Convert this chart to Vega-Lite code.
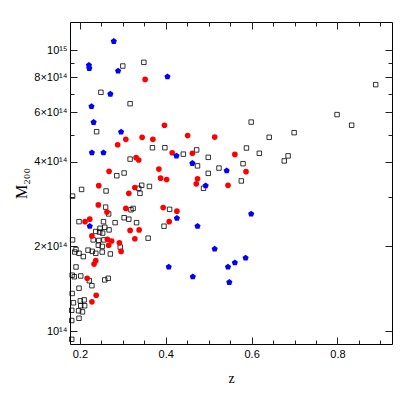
{
  "$schema": "https://vega.github.io/schema/vega-lite/v6.json",
  "width": 322,
  "height": 322,
  "autosize": "none",
  "padding": {"left": 70, "top": 22, "right": 23, "bottom": 71},
  "config": {
    "view": {"stroke": "#000", "strokeWidth": 1},
    "axis": {"domain": false, "grid": false, "tickColor": "#222", "tickWidth": 1, "labelFont": "Liberation Sans", "labelFontSize": 11, "labelColor": "#000", "titleFont": "Liberation Serif", "titleFontWeight": "normal", "titleColor": "#000"}
  },
  "data": {"values": [
    {"series":"blue","z":0.279,"M":10.74e14},{"series":"blue","z":0.221,"M":8.82e14},{"series":"blue","z":0.222,"M":8.61e14},{"series":"blue","z":0.289,"M":8.42e14},{"series":"blue","z":0.404,"M":8.04e14},{"series":"blue","z":0.271,"M":6.97e14},{"series":"blue","z":0.227,"M":6.30e14},{"series":"blue","z":0.232,"M":5.53e14},{"series":"blue","z":0.296,"M":5.11e14},{"series":"blue","z":0.228,"M":4.31e14},{"series":"blue","z":0.255,"M":4.31e14},{"series":"blue","z":0.425,"M":4.20e14},{"series":"blue","z":0.426,"M":2.52e14},{"series":"blue","z":0.223,"M":2.36e14},{"series":"blue","z":0.407,"M":1.69e14},{"series":"blue","z":0.462,"M":3.95e14},{"series":"blue","z":0.542,"M":3.72e14},{"series":"blue","z":0.493,"M":3.29e14},{"series":"blue","z":0.599,"M":2.61e14},{"series":"blue","z":0.474,"M":2.36e14},{"series":"blue","z":0.514,"M":1.96e14},{"series":"blue","z":0.586,"M":1.82e14},{"series":"blue","z":0.561,"M":1.75e14},{"series":"blue","z":0.545,"M":1.69e14},{"series":"blue","z":0.463,"M":1.56e14},{"series":"blue","z":0.548,"M":1.49e14},
    {"series":"red","z":0.352,"M":7.86e14},{"series":"red","z":0.397,"M":5.40e14},{"series":"red","z":0.307,"M":4.81e14},{"series":"red","z":0.345,"M":4.89e14},{"series":"red","z":0.370,"M":4.81e14},{"series":"red","z":0.451,"M":4.96e14},{"series":"red","z":0.514,"M":4.90e14},{"series":"red","z":0.288,"M":4.60e14},{"series":"red","z":0.415,"M":4.31e14},{"series":"red","z":0.331,"M":4.14e14},{"series":"red","z":0.337,"M":4.06e14},{"series":"red","z":0.268,"M":3.70e14},{"series":"red","z":0.384,"M":3.77e14},{"series":"red","z":0.388,"M":3.50e14},{"series":"red","z":0.402,"M":3.46e14},{"series":"red","z":0.244,"M":3.29e14},{"series":"red","z":0.328,"M":3.24e14},{"series":"red","z":0.314,"M":3.09e14},{"series":"red","z":0.243,"M":2.81e14},{"series":"red","z":0.263,"M":2.65e14},{"series":"red","z":0.307,"M":2.73e14},{"series":"red","z":0.394,"M":2.75e14},{"series":"red","z":0.426,"M":2.67e14},{"series":"red","z":0.223,"M":2.50e14},{"series":"red","z":0.212,"M":2.45e14},{"series":"red","z":0.408,"M":2.45e14},{"series":"red","z":0.338,"M":2.29e14},{"series":"red","z":0.317,"M":2.28e14},{"series":"red","z":0.228,"M":2.18e14},{"series":"red","z":0.328,"M":2.13e14},{"series":"red","z":0.264,"M":2.12e14},{"series":"red","z":0.274,"M":2.09e14},{"series":"red","z":0.292,"M":2.06e14},{"series":"red","z":0.267,"M":2.02e14},{"series":"red","z":0.296,"M":1.92e14},{"series":"red","z":0.237,"M":1.78e14},{"series":"red","z":0.233,"M":1.73e14},{"series":"red","z":0.217,"M":1.54e14},{"series":"red","z":0.238,"M":1.34e14},{"series":"red","z":0.228,"M":1.27e14},{"series":"red","z":0.462,"M":4.29e14},{"series":"red","z":0.561,"M":4.25e14},{"series":"red","z":0.587,"M":3.69e14},{"series":"red","z":0.474,"M":3.48e14},{"series":"red","z":0.471,"M":3.34e14},{"series":"red","z":0.545,"M":3.30e14},
    {"series":"sq","z":0.300,"M":8.77e14},{"series":"sq","z":0.349,"M":9.04e14},{"series":"sq","z":0.249,"M":7.07e14},{"series":"sq","z":0.317,"M":6.44e14},{"series":"sq","z":0.239,"M":5.12e14},{"series":"sq","z":0.369,"M":4.49e14},{"series":"sq","z":0.398,"M":4.49e14},{"series":"sq","z":0.599,"M":5.54e14},{"series":"sq","z":0.641,"M":4.89e14},{"series":"sq","z":0.699,"M":5.08e14},{"series":"sq","z":0.588,"M":4.48e14},{"series":"sq","z":0.472,"M":4.41e14},{"series":"sq","z":0.889,"M":7.53e14},{"series":"sq","z":0.799,"M":5.89e14},{"series":"sq","z":0.833,"M":5.40e14},{"series":"sq","z":0.441,"M":4.26e14},{"series":"sq","z":0.499,"M":4.15e14},{"series":"sq","z":0.618,"M":4.29e14},{"series":"sq","z":0.685,"M":4.20e14},{"series":"sq","z":0.676,"M":4.03e14},{"series":"sq","z":0.474,"M":3.87e14},{"series":"sq","z":0.524,"M":3.80e14},{"series":"sq","z":0.580,"M":3.94e14},{"series":"sq","z":0.499,"M":3.64e14},{"series":"sq","z":0.576,"M":3.42e14},{"series":"sq","z":0.488,"M":3.22e14},{"series":"sq","z":0.317,"M":4.09e14},{"series":"sq","z":0.303,"M":3.65e14},{"series":"sq","z":0.286,"M":3.57e14},{"series":"sq","z":0.344,"M":3.30e14},{"series":"sq","z":0.362,"M":3.27e14},{"series":"sq","z":0.337,"M":3.22e14},{"series":"sq","z":0.340,"M":3.09e14},{"series":"sq","z":0.204,"M":3.19e14},{"series":"sq","z":0.261,"M":3.15e14},{"series":"sq","z":0.183,"M":3.02e14},{"series":"sq","z":0.260,"M":2.76e14},{"series":"sq","z":0.319,"M":2.70e14},{"series":"sq","z":0.324,"M":2.73e14},{"series":"sq","z":0.267,"M":2.61e14},{"series":"sq","z":0.409,"M":2.71e14},{"series":"sq","z":0.303,"M":2.53e14},{"series":"sq","z":0.314,"M":2.50e14},{"series":"sq","z":0.255,"M":2.45e14},{"series":"sq","z":0.282,"M":2.43e14},{"series":"sq","z":0.332,"M":2.43e14},{"series":"sq","z":0.396,"M":2.36e14},{"series":"sq","z":0.247,"M":2.32e14},{"series":"sq","z":0.258,"M":2.34e14},{"series":"sq","z":0.268,"M":2.29e14},{"series":"sq","z":0.237,"M":2.26e14},{"series":"sq","z":0.246,"M":2.25e14},{"series":"sq","z":0.253,"M":2.23e14},{"series":"sq","z":0.359,"M":2.14e14},{"series":"sq","z":0.231,"M":2.11e14},{"series":"sq","z":0.244,"M":2.10e14},{"series":"sq","z":0.256,"M":2.11e14},{"series":"sq","z":0.183,"M":2.11e14},{"series":"sq","z":0.294,"M":1.99e14},{"series":"sq","z":0.243,"M":2.02e14},{"series":"sq","z":0.252,"M":2.00e14},{"series":"sq","z":0.191,"M":1.95e14},{"series":"sq","z":0.219,"M":1.94e14},{"series":"sq","z":0.229,"M":1.92e14},{"series":"sq","z":0.188,"M":1.91e14},{"series":"sq","z":0.198,"M":1.89e14},{"series":"sq","z":0.252,"M":1.91e14},{"series":"sq","z":0.237,"M":1.89e14},{"series":"sq","z":0.271,"M":1.88e14},{"series":"sq","z":0.208,"M":1.84e14},{"series":"sq","z":0.191,"M":1.69e14},{"series":"sq","z":0.182,"M":1.58e14},{"series":"sq","z":0.187,"M":1.56e14},{"series":"sq","z":0.202,"M":1.57e14},{"series":"sq","z":0.222,"M":1.51e14},{"series":"sq","z":0.228,"M":1.45e14},{"series":"sq","z":0.198,"M":1.42e14},{"series":"sq","z":0.258,"M":1.52e14},{"series":"sq","z":0.266,"M":1.54e14},{"series":"sq","z":0.182,"M":1.36e14},{"series":"sq","z":0.185,"M":1.26e14},{"series":"sq","z":0.201,"M":1.28e14},{"series":"sq","z":0.210,"M":1.29e14},{"series":"sq","z":0.211,"M":1.23e14},{"series":"sq","z":0.202,"M":1.23e14},{"series":"sq","z":0.181,"M":1.185e14},{"series":"sq","z":0.197,"M":1.18e14},{"series":"sq","z":0.206,"M":1.17e14},{"series":"sq","z":0.181,"M":1.09e14},{"series":"sq","z":0.198,"M":1.11e14},{"series":"sq","z":0.181,"M":0.934e14},{"series":"sq","z":0.198,"M":2.45e14}
  ]},
  "resolve": {"axis": {"x": "independent", "y": "independent"}},
  "layer": [
    {
      "transform": [{"filter": "datum.series == 'sq'"}],
      "mark": {"type": "point", "shape": "square", "filled": false, "stroke": "#000", "strokeWidth": 0.8, "size": 20, "opacity": 1},
      "encoding": {
        "x": {"field": "z", "type": "quantitative", "scale": {"domain": [0.177, 0.927], "nice": false, "zero": false},
              "axis": {"orient": "bottom", "values": [0.2, 0.4, 0.6, 0.8], "format": ".1f", "tickSize": -7, "labelPadding": 11, "title": "z", "titleFontSize": 14, "titlePadding": 12}},
        "y": {"field": "M", "type": "quantitative", "scale": {"type": "log", "domain": [0.899e14, 1.258e15], "nice": false, "zero": false},
              "axis": {"orient": "left", "values": [1e14, 2e14, 4e14, 6e14, 8e14, 1e15], "tickSize": -7, "labelPadding": 10,
                       "labelExpr": "datum.value == 1e14 ? '10¹⁴' : datum.value == 1e15 ? '10¹⁵' : round(datum.value / 1e14) + '×10¹⁴'",
                       "title": "M₂₀₀", "titleFontSize": 16, "titlePadding": 4}}
      }
    },
    {
      "transform": [{"filter": "datum.series == 'red'"}],
      "mark": {"type": "point", "shape": "circle", "filled": true, "fill": "#ff0000", "size": 32, "opacity": 1, "strokeWidth": 0},
      "encoding": {
        "x": {"field": "z", "type": "quantitative", "scale": {"domain": [0.177, 0.927], "nice": false, "zero": false},
              "axis": {"orient": "top", "values": [0.2, 0.4, 0.6, 0.8], "tickSize": -7, "labels": false, "title": null}},
        "y": {"field": "M", "type": "quantitative", "scale": {"type": "log", "domain": [0.899e14, 1.258e15], "nice": false, "zero": false},
              "axis": {"orient": "right", "values": [1e14, 2e14, 4e14, 6e14, 8e14, 1e15], "tickSize": -7, "labels": false, "title": null}}
      }
    },
    {
      "transform": [{"filter": "datum.series == 'blue'"}],
      "mark": {"type": "point", "shape": "M0,-1L0.951,-0.309L0.588,0.809L-0.588,0.809L-0.951,-0.309Z", "filled": true, "fill": "#0000ff", "size": 42, "opacity": 1, "strokeWidth": 0},
      "encoding": {
        "x": {"field": "z", "type": "quantitative", "scale": {"domain": [0.177, 0.927], "nice": false, "zero": false},
              "axis": {"orient": "bottom", "values": [0.2, 0.25, 0.3, 0.35, 0.4, 0.45, 0.5, 0.55, 0.6, 0.65, 0.7, 0.75, 0.8, 0.85, 0.9], "tickSize": -4, "labels": false, "title": null}},
        "y": {"field": "M", "type": "quantitative", "scale": {"type": "log", "domain": [0.899e14, 1.258e15], "nice": false, "zero": false},
              "axis": {"orient": "left", "values": [1e14, 2e14, 3e14, 4e14, 5e14, 6e14, 7e14, 8e14, 9e14, 1e15], "tickSize": -4, "labels": false, "title": null}}
      }
    },
    {
      "transform": [{"filter": "datum.series == 'blue'"}],
      "mark": {"type": "point", "shape": "circle", "filled": true, "size": 1, "opacity": 0},
      "encoding": {
        "x": {"field": "z", "type": "quantitative", "scale": {"domain": [0.177, 0.927], "nice": false, "zero": false},
              "axis": {"orient": "top", "values": [0.2, 0.25, 0.3, 0.35, 0.4, 0.45, 0.5, 0.55, 0.6, 0.65, 0.7, 0.75, 0.8, 0.85, 0.9], "tickSize": -4, "labels": false, "title": null}},
        "y": {"field": "M", "type": "quantitative", "scale": {"type": "log", "domain": [0.899e14, 1.258e15], "nice": false, "zero": false},
              "axis": {"orient": "right", "values": [1e14, 2e14, 3e14, 4e14, 5e14, 6e14, 7e14, 8e14, 9e14, 1e15], "tickSize": -4, "labels": false, "title": null}}
      }
    }
  ]
}
